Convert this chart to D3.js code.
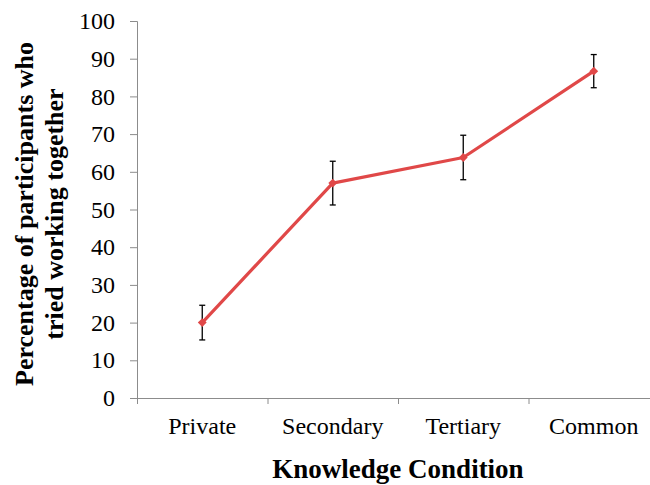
<!DOCTYPE html>
<html>
<head>
<meta charset="utf-8">
<script src="https://cdn.jsdelivr.net/npm/d3@7"></script>
<style>
    body { margin: 0; background: #fff; }
    svg { display: block; }
    text { font-family: "Liberation Serif", "Times New Roman", serif; }
</style>
</head>
<body>
<div id="chart-area"></div>
<script>
const conditions = ["Private", "Secondary", "Tertiary", "Common"];
const percentages = [20, 57, 63.8, 86.7];
const errors = [4.6, 5.8, 5.9, 4.4];
const yTicks = [0, 10, 20, 30, 40, 50, 60, 70, 80, 90, 100];

const margin = { top: 21, right: -9, bottom: 87, left: 137 };
const width = 650 - margin.left - margin.right;
const height = 485 - margin.top - margin.bottom;

const svg = d3
    .select("#chart-area")
    .append("svg")
    .attr("width", 650)
    .attr("height", 485);

const g = svg
    .append("g")
    .attr("transform", `translate(${margin.left}, ${margin.top})`);

//Scales
const xScale = d3.scaleBand().domain(conditions).range([0, width]);
const yScale = d3.scaleLinear().domain([0, 100]).range([height, 0]);

//Axes
const xAxisCall = d3.axisBottom(xScale).tickSize(0).tickPadding(19);
const yAxisCall = d3.axisLeft(yScale).tickValues(yTicks).tickSize(7).tickPadding(15);

const xAxis = g.append("g")
    .attr("class", "x-axis")
    .attr("transform", `translate(0, ${height})`)
    .call(xAxisCall);
// category separators
xAxis.selectAll(".sep")
    .data(conditions)
    .enter()
    .append("line")
    .attr("x1", (d) => xScale(d) + 0.5)
    .attr("x2", (d) => xScale(d) + 0.5)
    .attr("y1", 0)
    .attr("y2", 6)
    .attr("stroke", "#8c8c8c");

const yAxis = g.append("g").attr("class", "y-axis").call(yAxisCall);

svg.selectAll(".x-axis, .y-axis").attr("font-family", null).attr("font-size", null);
svg.selectAll(".domain, .tick line").attr("stroke", "#8c8c8c");
svg.selectAll(".tick text")
    .attr("font-size", "24px")
    .attr("fill", "#000");

//Error bars
const bars = g.selectAll(".err")
    .data(conditions)
    .enter()
    .append("g")
    .attr("class", "err")
    .attr("stroke", "#000")
    .attr("stroke-width", 1.3);

const cx = (d) => xScale(d) + xScale.bandwidth() / 2;
const hi = (d, i) => yScale(percentages[i] + errors[i]);
const lo = (d, i) => yScale(percentages[i] - errors[i]);

bars.append("line")
    .attr("x1", cx).attr("x2", cx)
    .attr("y1", hi).attr("y2", lo);
bars.append("line")
    .attr("x1", (d) => cx(d) - 3).attr("x2", (d) => cx(d) + 3)
    .attr("y1", hi).attr("y2", hi);
bars.append("line")
    .attr("x1", (d) => cx(d) - 3).attr("x2", (d) => cx(d) + 3)
    .attr("y1", lo).attr("y2", lo);

//Line
const line = d3.line()
    .x((d, i) => cx(conditions[i]))
    .y((d) => yScale(d));

g.append("path")
    .datum(percentages)
    .attr("fill", "none")
    .attr("stroke", "#e04848")
    .attr("stroke-width", 3.2)
    .attr("stroke-linejoin", "round")
    .attr("d", line);

g.selectAll(".marker")
    .data(percentages)
    .enter()
    .append("path")
    .attr("class", "marker")
    .attr("d", d3.symbol().type(d3.symbolDiamond2).size(50))
    .attr("fill", "#e04848")
    .attr("transform", (d, i) => `translate(${cx(conditions[i])}, ${yScale(d)})`);

//Labels
svg.append("text")
    .attr("font-size", "27px")
    .attr("font-weight", "bold")
    .attr("text-anchor", "middle")
    .attr("x", 398)
    .attr("y", 478)
    .text("Knowledge Condition");

const yLabel = svg.append("text")
    .attr("font-size", "26px")
    .attr("font-weight", "bold")
    .attr("text-anchor", "middle")
    .attr("transform", "translate(0, 214) rotate(-90)");
yLabel.append("tspan").attr("x", 0).attr("y", 33).text("Percentage of participants who");
yLabel.append("tspan").attr("x", 0).attr("y", 63).text("tried working together");
</script>
</body>
</html>
